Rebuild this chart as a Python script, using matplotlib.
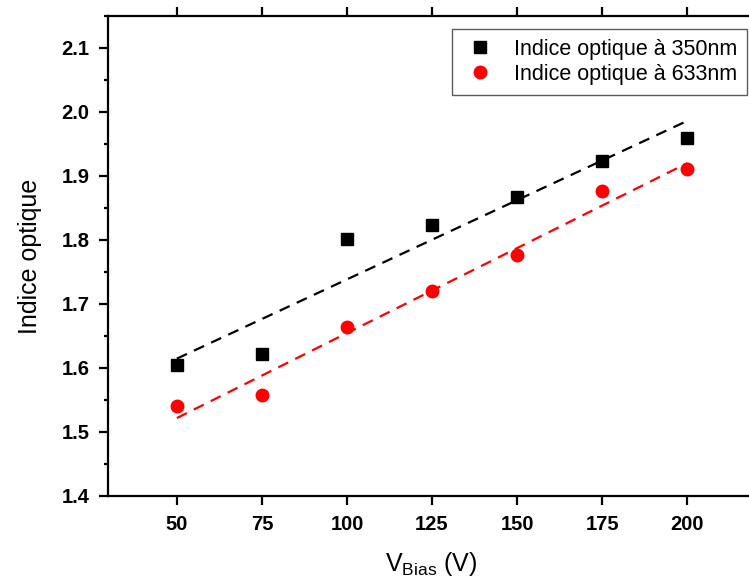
import numpy as np
import matplotlib.pyplot as plt
from matplotlib.ticker import MultipleLocator

plt.rcParams['font.family'] = ['Liberation Sans', 'DejaVu Sans']

v_bias = [50, 75, 100, 125, 150, 175, 200]
n_350 = [1.605, 1.622, 1.801, 1.824, 1.867, 1.923, 1.960]
n_633 = [1.541, 1.558, 1.664, 1.720, 1.776, 1.876, 1.911]

fig = plt.figure(figsize=(7.49, 5.77), dpi=100)
ax = fig.add_axes([0.1442, 0.1404, 0.864, 0.832])

x = np.array(v_bias)
for y, c in [(n_350, 'black'), (n_633, 'red')]:
    p = np.polyfit(x, y, 1)
    ax.plot(x, np.polyval(p, x), '--', color=c, lw=1.6, dashes=(5, 3.5), zorder=2)

ax.plot(v_bias, n_350, 's', color='black', ms=8, label='Indice optique à 350nm', zorder=3)
ax.plot(v_bias, n_633, 'o', color='red', ms=9, label='Indice optique à 633nm', zorder=3)

ax.set_xlim(29.75, 220)
ax.set_ylim(1.4, 2.15)
ax.set_xticks(v_bias)
ax.yaxis.set_major_locator(MultipleLocator(0.1))
ax.yaxis.set_minor_locator(MultipleLocator(0.05))

for s in ['left', 'bottom', 'top']:
    ax.spines[s].set_linewidth(1.6)
ax.spines['right'].set_visible(False)

ax.tick_params(axis='both', which='major', direction='out', length=6.5, width=1.6,
               labelsize=14.5, top=True, labeltop=False)
ax.tick_params(axis='x', which='major', pad=7)
ax.tick_params(axis='y', which='major', pad=7)
ax.tick_params(axis='y', which='minor', direction='out', length=3, width=1.6)
ax.set_yticks(np.arange(1.4, 2.11, 0.1))
ax.set_yticklabels([f'{v:.1f}' for v in np.arange(1.4, 2.11, 0.1)])
for lbl in ax.get_xticklabels() + ax.get_yticklabels():
    lbl.set_fontweight('bold')

ax.set_xlabel('V$_{\\mathregular{Bias}}$ (V)', fontsize=18, labelpad=12)
ax.set_ylabel('Indice optique', fontsize=18, labelpad=14)

leg = ax.legend(loc='upper right', bbox_to_anchor=(0.987, 0.973), fontsize=15.5,
                frameon=True, fancybox=False, edgecolor='#333333', handletextpad=0.75,
                borderpad=0.45, labelspacing=0.2, handlelength=1.65, borderaxespad=0)
leg.get_frame().set_linewidth(1.0)

fig.savefig('out.png', dpi=100)
